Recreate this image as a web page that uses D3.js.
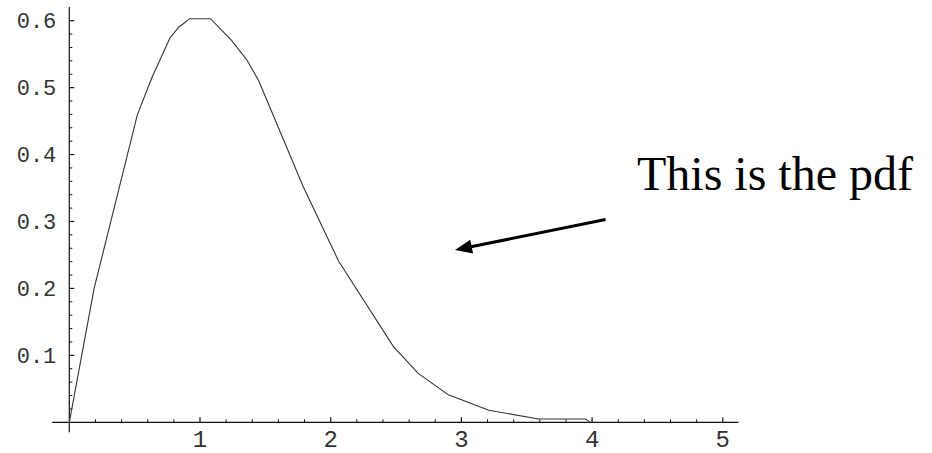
<!DOCTYPE html>
<html>
<head>
<meta charset="utf-8">
<script src="https://cdn.jsdelivr.net/npm/d3@7"></script>
<style>
  html, body { margin: 0; padding: 0; background: #fff; }
  svg { display: block; }
</style>
</head>
<body>
<svg id="pdf-chart" width="932" height="453"></svg>
<script>
// curve vertices (x, density)
var xValues = [0, 0.19, 0.52, 0.63, 0.77, 0.84, 0.87, 0.92, 1.08, 1.24, 1.36, 1.45, 1.79, 2.06, 2.48, 2.67, 2.90, 3.21, 3.59, 3.95, 3.98];
var yValues = [0, 0.200, 0.459, 0.514, 0.574, 0.591, 0.595, 0.603, 0.603, 0.571, 0.541, 0.510, 0.352, 0.241, 0.113, 0.073, 0.041, 0.018, 0.005, 0.005, 0.001];

var xTicks = [1, 2, 3, 4, 5];
var yTicks = [0.1, 0.2, 0.3, 0.4, 0.5, 0.6];
var yTickLabels = ["0.1", "0.2", "0.3", "0.4", "0.5", "0.6"];

var annotation = "This is the pdf";

var svg = d3.select("#pdf-chart");

// scales
var x = d3.scaleLinear().domain([0, 5]).range([69.3, 722.8]);
var y = d3.scaleLinear().domain([0, 0.6]).range([422.3, 20.7]);

var axisColor = "#111";

// minor tick positions
var xMinor = d3.range(0, 26).map(function(i) { return i * 0.2; }).filter(function(v) { return Math.abs(v - Math.round(v)) > 1e-6; });
var yMinor = d3.range(1, 31).map(function(i) { return i * 0.02; }).filter(function(v) { return Math.abs(v * 10 - Math.round(v * 10)) > 1e-6; });

// x axis
var xAxis = svg.append("g").attr("transform", "translate(0," + y(0) + ")");
xAxis.append("line")
    .attr("x1", x(-0.13)).attr("x2", x(5.12))
    .attr("stroke", axisColor).attr("stroke-width", 1.2);
xAxis.selectAll(".major").data(xTicks).enter().append("line")
    .attr("x1", function(d) { return x(d); }).attr("x2", function(d) { return x(d); })
    .attr("y1", 0).attr("y2", -5)
    .attr("stroke", axisColor).attr("stroke-width", 1.2);
xAxis.selectAll(".minor").data(xMinor).enter().append("line")
    .attr("x1", function(d) { return x(d); }).attr("x2", function(d) { return x(d); })
    .attr("y1", 0).attr("y2", -3)
    .attr("stroke", axisColor).attr("stroke-width", 1);
xAxis.selectAll("text").data(xTicks).enter().append("text")
    .attr("x", function(d) { return x(d); })
    .attr("y", 25)
    .attr("text-anchor", "middle")
    .attr("fill", "#333")
    .style("font-family", "'Courier New', 'Liberation Mono', monospace")
    .style("font-size", "24px")
    .text(function(d) { return d; });

// y axis
var yAxis = svg.append("g").attr("transform", "translate(" + x(0) + ",0)");
yAxis.append("line")
    .attr("y1", y(0.6205)).attr("y2", y(-0.015))
    .attr("stroke", axisColor).attr("stroke-width", 1.2);
yAxis.selectAll(".major").data(yTicks).enter().append("line")
    .attr("y1", function(d) { return y(d); }).attr("y2", function(d) { return y(d); })
    .attr("x1", 0).attr("x2", 5)
    .attr("stroke", axisColor).attr("stroke-width", 1.2);
yAxis.selectAll(".minor").data(yMinor).enter().append("line")
    .attr("y1", function(d) { return y(d); }).attr("y2", function(d) { return y(d); })
    .attr("x1", 0).attr("x2", 3)
    .attr("stroke", axisColor).attr("stroke-width", 1);
yAxis.selectAll("text").data(yTicks).enter().append("text")
    .attr("x", -13)
    .attr("y", function(d) { return y(d); })
    .attr("dy", "0.33em")
    .attr("text-anchor", "end")
    .attr("fill", "#333")
    .style("font-family", "'Courier New', 'Liberation Mono', monospace")
    .style("font-size", "22px")
    .text(function(d, i) { return yTickLabels[i]; });

// the curve
var points = xValues.map(function(v, i) { return [v, yValues[i]]; });
var line = d3.line()
    .x(function(d) { return x(d[0]); })
    .y(function(d) { return y(d[1]); });

svg.append("path")
    .datum(points)
    .attr("d", line)
    .attr("fill", "none")
    .attr("stroke", "#333")
    .attr("stroke-width", 1.1);

// arrow pointing at the curve
var tail = [4.103, 0.303], tip = [2.951, 0.2574];
var tx = x(tip[0]), ty = y(tip[1]), sx = x(tail[0]), sy = y(tail[1]);
var ang = Math.atan2(ty - sy, tx - sx);
var headLen = 17, headHalf = 7;
var bx = tx - headLen * Math.cos(ang), by = ty - headLen * Math.sin(ang);

svg.append("line")
    .attr("x1", sx).attr("y1", sy)
    .attr("x2", bx + 2 * Math.cos(ang)).attr("y2", by + 2 * Math.sin(ang))
    .attr("stroke", "#000").attr("stroke-width", 3);

svg.append("path")
    .attr("d", "M" + tx + "," + ty +
        "L" + (bx + headHalf * Math.sin(ang)) + "," + (by - headHalf * Math.cos(ang)) +
        "L" + (bx - headHalf * Math.sin(ang)) + "," + (by + headHalf * Math.cos(ang)) + "Z")
    .attr("fill", "#000");

svg.append("text")
    .attr("x", 637)
    .attr("y", 190)
    .attr("fill", "#000")
    .style("font-family", "'Times New Roman', 'Liberation Serif', serif")
    .style("font-size", "48px")
    .text(annotation);
</script>
</body>
</html>
